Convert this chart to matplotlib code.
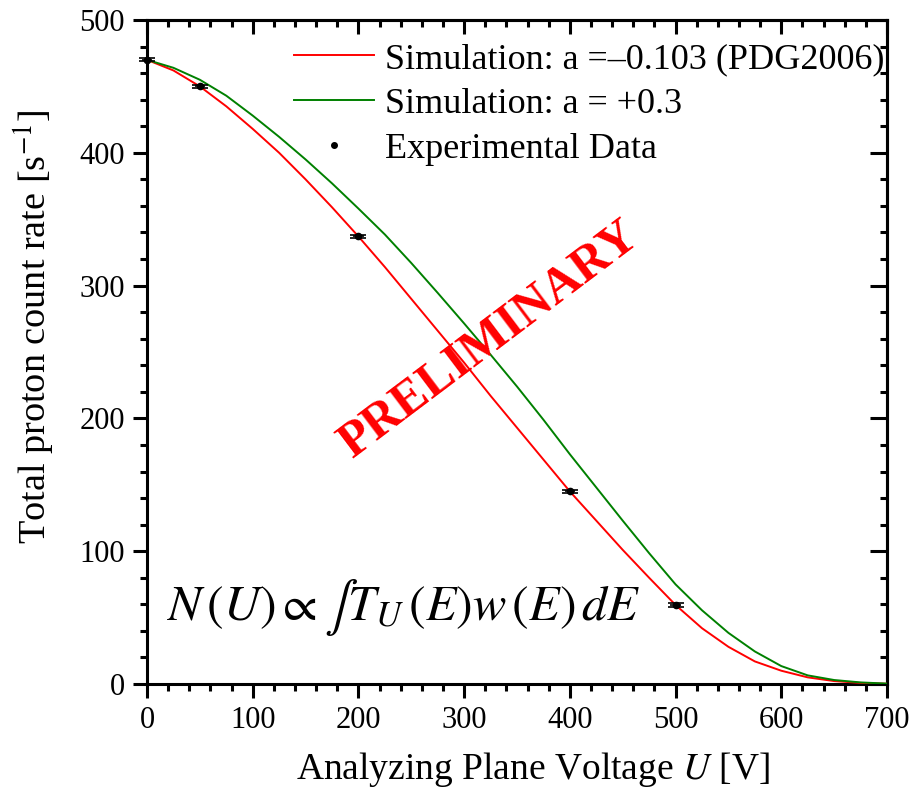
# plot.py
# Proton count rate vs analyzing plane voltage, simulation vs data

import matplotlib
matplotlib.use("Agg")
import matplotlib.pyplot as plt
from matplotlib.lines import Line2D
from matplotlib.ticker import MultipleLocator

plt.rcParams['font.family'] = ['Liberation Serif', 'DejaVu Serif']
plt.rcParams['mathtext.fontset'] = 'stix'

# simulation curves, every 25 V
voltage = [0, 25, 50, 75, 100, 125, 150, 175, 200, 225, 250, 275, 300, 325,
           350, 375, 400, 425, 450, 475, 500, 525, 550, 575, 600, 625, 650,
           675, 700]
rate_pdg = [470, 462, 450, 435, 418, 400, 380, 359, 337, 314, 290, 266, 242,
            217, 193, 169, 145, 123, 101, 80, 59.5, 42, 28, 17, 10, 5, 2.2,
            0.8, 0.2]
rate_plus = [470, 464, 455, 443, 428, 412, 395, 377, 358, 338.5, 317, 294.5,
             271.5, 248, 224, 199, 173, 148, 123, 98.5, 75, 55.5, 38.5, 24.5,
             13.5, 6.5, 3, 1.2, 0.3]

# measured points
exp_u = [0, 50, 200, 400, 500]
exp_rate = [470, 450, 337, 145, 59.5]
exp_uerr = [5, 5, 5, 5, 5]
exp_rerr = [1.2, 1.2, 1.2, 1.2, 1.2]

labels = ["Simulation: a =\u20130.103 (PDG2006)", "Simulation: a = +0.3",
          "Experimental Data"]

fig = plt.figure(figsize=(9.24, 7.92), dpi=100)
ax = fig.add_axes([147/924, 108/792, 740/924, 664/792])

ax.plot(voltage, rate_pdg, color='#ff0000', lw=1.4, zorder=3)
ax.plot(voltage, rate_plus, color='#008000', lw=1.4, zorder=3)
ax.errorbar(exp_u, exp_rate, xerr=exp_uerr, fmt='none', ecolor='black',
            elinewidth=1.2, capsize=0, zorder=4, clip_on=False)
ax.errorbar(exp_u, exp_rate, yerr=exp_rerr, fmt='o', color='black', ms=4.5,
            elinewidth=1.0, capsize=6, capthick=1.2, zorder=4, clip_on=False)

ax.set_xlim(0, 700)
ax.set_ylim(0, 500)
ax.xaxis.set_major_locator(MultipleLocator(100))
ax.xaxis.set_minor_locator(MultipleLocator(20))
ax.yaxis.set_major_locator(MultipleLocator(100))
ax.yaxis.set_minor_locator(MultipleLocator(20))

for s in ax.spines.values():
    s.set_linewidth(2.2)
ax.tick_params(which='both', direction='out', width=2.2, labelsize=22,
               top=False, right=False)
ax.tick_params(which='major', length=10, pad=6)
ax.tick_params(which='minor', length=5)

# inward ticks on the top and right sides
sec_x = ax.secondary_xaxis('top')
sec_x.xaxis.set_major_locator(MultipleLocator(100))
sec_x.xaxis.set_minor_locator(MultipleLocator(20))
sec_x.tick_params(which='both', direction='in', width=2.2, labeltop=False)
sec_x.tick_params(which='major', length=10)
sec_x.tick_params(which='minor', length=5)
sec_y = ax.secondary_yaxis('right')
sec_y.yaxis.set_major_locator(MultipleLocator(100))
sec_y.yaxis.set_minor_locator(MultipleLocator(20))
sec_y.tick_params(which='both', direction='in', width=2.2, labelright=False)
sec_y.tick_params(which='major', length=12)
sec_y.tick_params(which='minor', length=5)
for sec in (sec_x, sec_y):
    for s in sec.spines.values():
        s.set_linewidth(2.2)

ax.set_xlabel("Analyzing Plane Voltage $U$ [V]", fontsize=27)
ax.set_ylabel("Total proton count rate [s$^{\\mathrm{-1}}$]", fontsize=27.5)
ax.xaxis.set_label_coords(0.5 + 16/740, -66/664)
ax.yaxis.set_label_coords(-90/740, 0.5 + 25/664)

handles = [Line2D([], [], color='#ff0000', lw=1.4),
           Line2D([], [], color='#008000', lw=1.4),
           Line2D([], [], color='black', marker='o', ms=4, ls='none')]
ax.legend(handles, labels, loc='upper left', bbox_to_anchor=(0.199, 0.966),
          frameon=False, fontsize=26, handlelength=2.2, handletextpad=0.3,
          labelspacing=0.32, borderpad=0, borderaxespad=0)

ax.text(18, 48,
        r"$N\,(U)\propto\int T_U\,(E)w\,(E)\,dE$",
        fontsize=36, ha='left', va='baseline')

ax.text(324, 259, "PRELIMINARY", color='#ff0000', fontsize=36,
        fontweight='bold', rotation=37, ha='center', va='center',
        rotation_mode='anchor')

fig.savefig("out.png", dpi=100)
